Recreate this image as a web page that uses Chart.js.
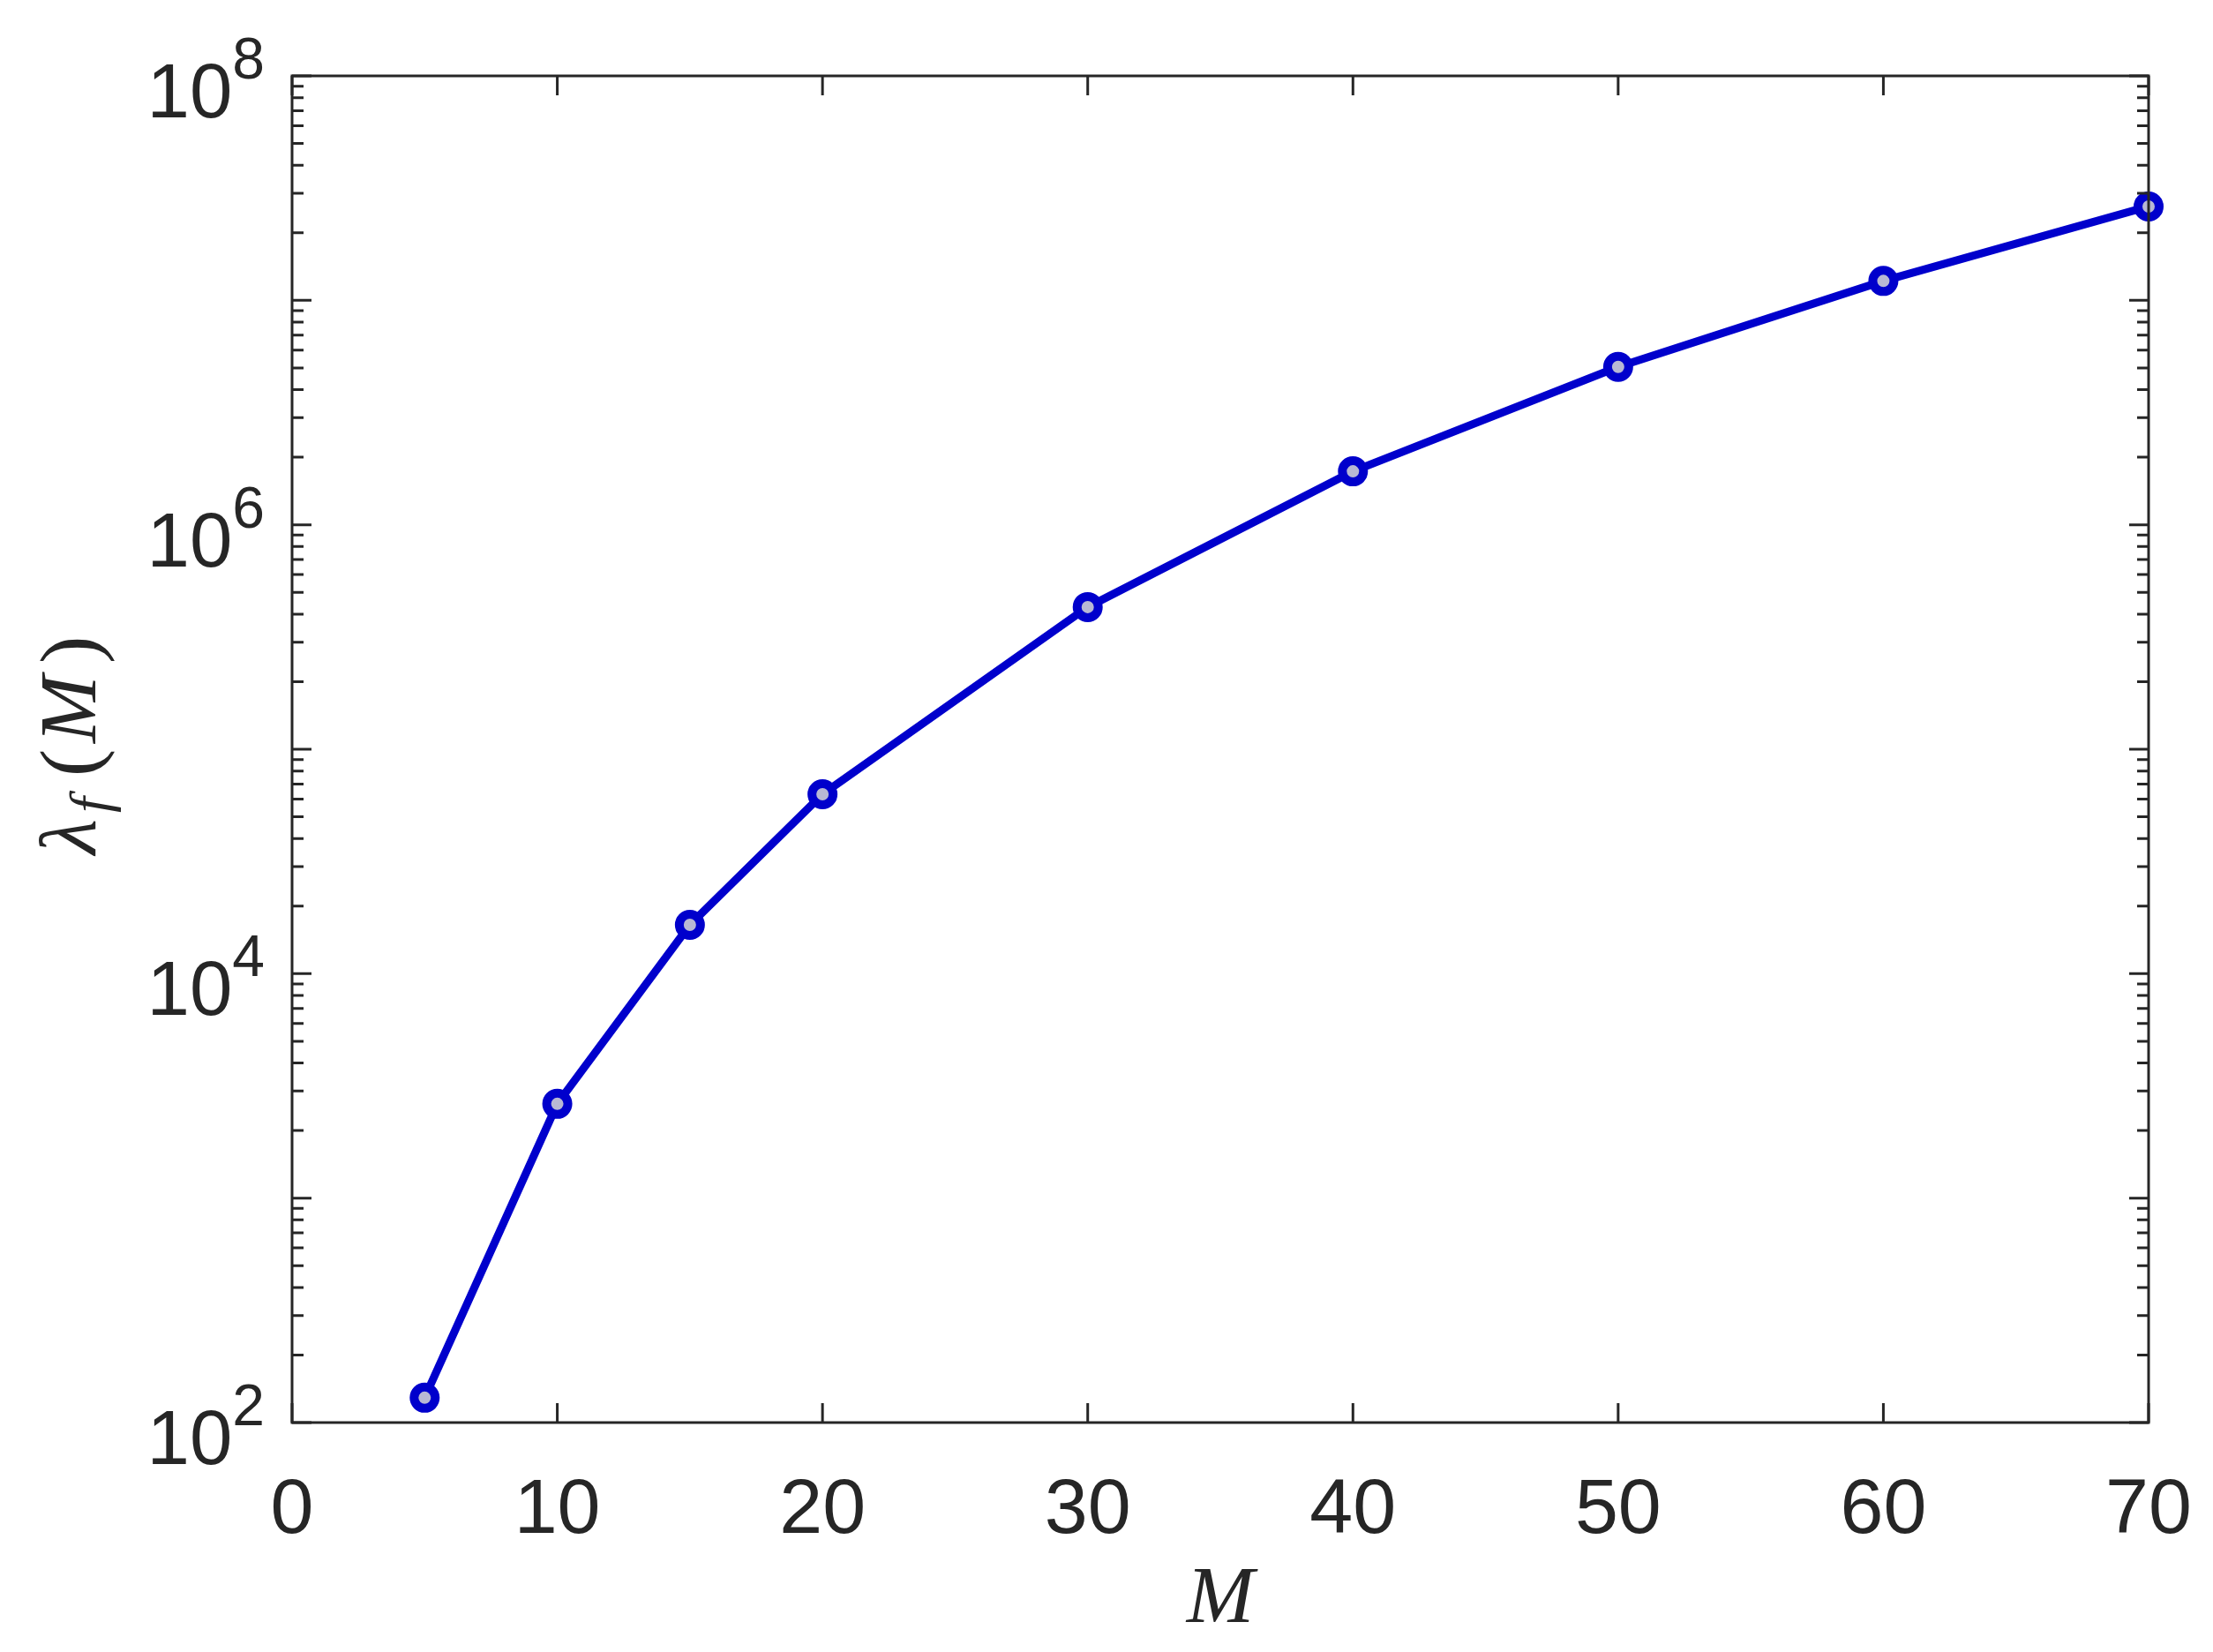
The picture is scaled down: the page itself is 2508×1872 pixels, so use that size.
<!DOCTYPE html>
<html>
<head>
<meta charset="utf-8">
<script src="https://cdn.jsdelivr.net/npm/chart.js@4.4.1/dist/chart.umd.min.js"></script>
<style>
    html, body { margin: 0; padding: 0; background: #ffffff; }
    #ChartHolder { display: block; }
</style>
</head>
<body>
<canvas id="ChartHolder" width="2508" height="1872"></canvas>
<script>

// values
var mValues = [5, 10, 15, 20, 30, 40, 50, 60, 70];
var lambdaValues = [129, 2630, 16500, 63000, 430000, 1730000, 5050000, 12200000, 26200000];

// axis ticks
var xTickValues = [0, 10, 20, 30, 40, 50, 60, 70];
var yTickExponents = [2, 4, 6, 8];
var yMinorMultipliers = [2, 3, 4, 5, 6, 7, 8, 9];

var axisColor = '#262626';
var lineColor = 'rgb(0, 0, 204)';
var markerFill = 'rgb(184, 184, 212)';

// frame, ticks and labels drawn MATLAB-style from the chart's own scales
var matlabAxes = {
    id: 'matlabAxes',
    afterDraw: function (chart) {
        var ctx = chart.ctx;
        var area = chart.chartArea;
        var xs = chart.scales.x;
        var ys = chart.scales.y;

        ctx.save();
        ctx.strokeStyle = axisColor;
        ctx.lineWidth = 3;
        ctx.strokeRect(area.left, area.top, area.right - area.left, area.bottom - area.top);

        ctx.beginPath();
        // x ticks, bottom and top, inward
        xTickValues.forEach(function (v) {
            var px = xs.getPixelForValue(v);
            ctx.moveTo(px, area.bottom); ctx.lineTo(px, area.bottom - 22);
            ctx.moveTo(px, area.top); ctx.lineTo(px, area.top + 22);
        });
        // y ticks, left and right
        for (var e = 2; e <= 8; e++) {
            var py = ys.getPixelForValue(Math.pow(10, e));
            ctx.moveTo(area.left, py); ctx.lineTo(area.left + 22, py);
            ctx.moveTo(area.right, py); ctx.lineTo(area.right - 22, py);
            if (e < 8) {
                yMinorMultipliers.forEach(function (m) {
                    var pm = ys.getPixelForValue(m * Math.pow(10, e));
                    ctx.moveTo(area.left, pm); ctx.lineTo(area.left + 13, pm);
                    ctx.moveTo(area.right, pm); ctx.lineTo(area.right - 13, pm);
                });
            }
        }
        ctx.stroke();

        // x tick labels
        ctx.fillStyle = axisColor;
        ctx.font = '88px "Liberation Sans", Arial, sans-serif';
        ctx.textAlign = 'center';
        ctx.textBaseline = 'alphabetic';
        xTickValues.forEach(function (v) {
            ctx.fillText(String(v), xs.getPixelForValue(v), area.bottom + 125);
        });

        // y tick labels 10^k
        yTickExponents.forEach(function (e) {
            var py = ys.getPixelForValue(Math.pow(10, e));
            var right = area.left - 31;
            ctx.textAlign = 'right';
            ctx.font = '66px "Liberation Sans", Arial, sans-serif';
            var expStr = String(e);
            var expW = ctx.measureText(expStr).width;
            ctx.fillText(expStr, right, py + 3);
            ctx.font = '87px "Liberation Sans", Arial, sans-serif';
            ctx.fillText('10', right - expW, py + 47);
        });

        // x title
        ctx.textAlign = 'center';
        ctx.font = 'italic 92px "Liberation Serif", "Times New Roman", serif';
        ctx.fillText('M', (area.left + area.right) / 2, area.bottom + 226);

        // y title  λ_f(M), pieces placed like the LaTeX output
        var parts = [
            { t: '\u03bb', f: 'italic 92px "Liberation Serif", serif', u: 0, dy: 0 },
            { t: 'f', f: 'italic 64px "Liberation Serif", serif', u: 50, dy: 15 },
            { t: '(', f: '94px "Liberation Serif", serif', u: 95, dy: 2 },
            { t: 'M', f: 'italic 92px "Liberation Serif", serif', u: 127, dy: 0 },
            { t: ')', f: '94px "Liberation Serif", serif', u: 222, dy: 2 }
        ];
        ctx.translate(108, (area.top + area.bottom) / 2);
        ctx.rotate(-Math.PI / 2);
        ctx.textAlign = 'left';
        parts.forEach(function (p) {
            ctx.font = p.f;
            var m = ctx.measureText(p.t);
            ctx.fillText(p.t, -122 + p.u + m.actualBoundingBoxLeft, p.dy);
        });
        ctx.restore();
    }
};

var ctx = document.getElementById('ChartHolder');

var lineData = {
    labels: mValues,
    datasets: [{
        label: 'lambda_f',
        data: mValues.map(function (m, i) { return { x: m, y: lambdaValues[i] }; }),
        borderColor: lineColor,
        borderWidth: 9,
        backgroundColor: markerFill,
        pointBackgroundColor: markerFill,
        pointBorderColor: lineColor,
        pointBorderWidth: 10,
        pointRadius: 12,
        pointStyle: 'circle',
        tension: 0,
        clip: false
    }]
};

var chartConfig = {
    type: 'line',
    data: lineData,
    plugins: [matlabAxes],
    options: {
        responsive: false,
        animation: false,
        devicePixelRatio: 1,
        layout: {
            padding: { left: 331, right: 73, top: 86, bottom: 260 }
        },
        plugins: {
            legend: { display: false },
            tooltip: { enabled: false }
        },
        scales: {
            x: {
                type: 'linear',
                min: 0,
                max: 70,
                display: false
            },
            y: {
                type: 'logarithmic',
                min: 100,
                max: 100000000,
                display: false
            }
        }
    }
};

var currentChart = new Chart(ctx, chartConfig);
</script>
</body>
</html>
